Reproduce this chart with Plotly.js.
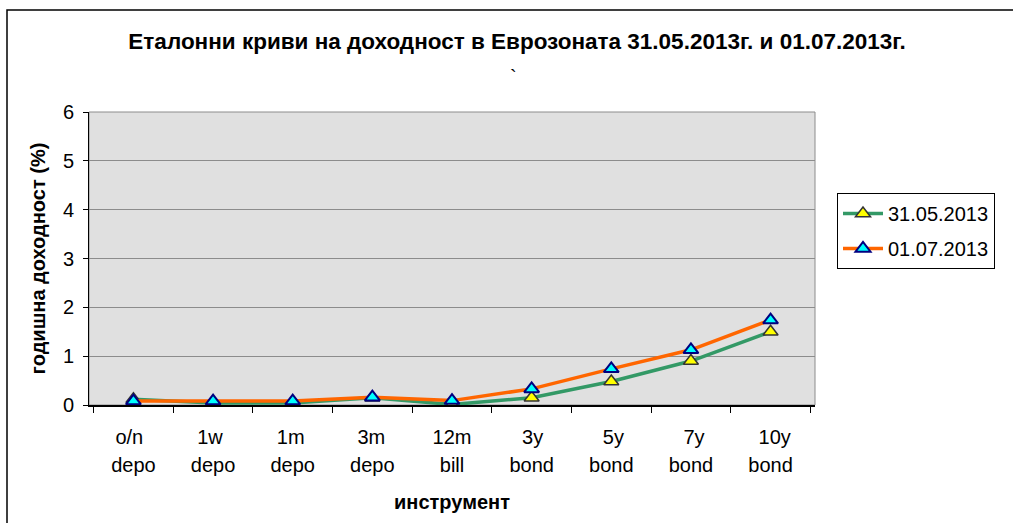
<!DOCTYPE html>
<html><head><meta charset="utf-8">
<script src="https://cdn.plot.ly/plotly-3.0.1.min.js"></script>
<style>html,body{margin:0;padding:0;background:#fff}#chart{width:1013px;height:523px}</style>
</head><body><div id="chart"></div>
<script>
const categories = ["o/n depo","1w depo","1m depo","3m depo","12m bill","3y bond","5y bond","7y bond","10y bond"];
const labelTop = ["o/n","1w","1m","3m","12m","3y","5y","7y","10y"];
const labelBottom = ["depo","depo","depo","depo","bill","bond","bond","bond","bond"];
const series1Name = "31.05.2013";
const series1 = [0.12, 0.04, 0.04, 0.15, 0.01, 0.15, 0.48, 0.90, 1.50];
const series2Name = "01.07.2013";
const series2 = [0.08, 0.08, 0.08, 0.16, 0.09, 0.33, 0.74, 1.13, 1.74];
const yTicks = [0,1,2,3,4,5,6];

const FONT = "Liberation Sans, Arial, sans-serif";
const FS = 20;
const L = 89, R = 815, T = 112, B = 405, W = 1013, H = 523;
const px2x = p => (p - L) / (R - L);
const py2y = p => (B - p) / (B - T);

const traces = [
  {x: categories, y: series1, name: series1Name, type: 'scatter', mode: 'lines+markers', legendgroup: 'a',
   line: {color: '#339966', width: 3.5},
   marker: {symbol: 'triangle-up', size: 13, color: '#FFFF00', line: {color: '#333333', width: 1.5}}},
  {x: categories, y: series2, name: series2Name, type: 'scatter', mode: 'lines+markers', legendgroup: 'b',
   line: {color: '#FF6600', width: 3.5},
   marker: {symbol: 'triangle-up', size: 13, color: '#00FFFF', line: {color: '#000080', width: 2}}},
  {x: labelTop, y: labelTop.map(() => null), xaxis: 'x2', type: 'scatter', mode: 'lines',
   showlegend: false, hoverinfo: 'skip', line: {width: 0}}
];

const layout = {
  width: W, height: H,
  margin: {l: L, r: W - R, t: T, b: H - B, pad: 0},
  paper_bgcolor: '#ffffff', plot_bgcolor: '#E0E0E0',
  font: {family: FONT, size: FS, color: '#000'},
  showlegend: true,
  title: {text: '<b>Еталонни криви на доходност в Еврозоната 31.05.2013г. и 01.07.2013г.</b>',
          font: {family: FONT, size: 22.5, color: '#000'}, x: 517 / W, xref: 'container', xanchor: 'center',
          y: 1 - 41 / H, yref: 'container', yanchor: 'middle'},
  xaxis: {type: 'category', tickmode: 'array', tickvals: categories, ticktext: labelBottom,
          tickson: 'boundaries', ticks: 'outside', ticklen: 6, tickcolor: '#000', tickwidth: 1,
          showline: true, linecolor: '#000', linewidth: 2, showgrid: false, zeroline: false,
          tickfont: {family: FONT, size: FS}, ticklabelstandoff: 41,
          title: {text: '<b>инструмент</b>', font: {family: FONT, size: FS}, standoff: 20}},
  xaxis2: {overlaying: 'x', anchor: 'y', side: 'bottom', type: 'category', range: [-0.5, 8.5],
           ticks: '', showline: false, showgrid: false, zeroline: false,
           tickfont: {family: FONT, size: FS}, ticklabelstandoff: 18, fixedrange: true},
  yaxis: {range: [0, 6], tickmode: 'array', tickvals: yTicks, ticks: 'outside', ticklen: 5,
          tickcolor: '#000', showline: true, linecolor: '#000', linewidth: 1,
          showgrid: true, gridcolor: '#8C8C8C', gridwidth: 1, zeroline: false,
          tickfont: {family: FONT, size: FS}, ticklabelstandoff: 5,
          title: {text: '<b>годишна доходност (%)</b>', font: {family: FONT, size: FS}, standoff: 11}},
  legend: {x: px2x(837), y: py2y(193), xanchor: 'left', yanchor: 'top', traceorder: 'grouped',
           bordercolor: '#000', borderwidth: 1, bgcolor: '#fff',
           font: {family: FONT, size: FS}, tracegroupgap: 6, itemwidth: 40},
  shapes: [
    {type: 'rect', xref: 'paper', yref: 'paper', x0: 0, x1: 1, y0: 0, y1: 1,
     line: {color: '#8C8C8C', width: 1}, layer: 'below'},
    {type: 'rect', xref: 'paper', yref: 'paper', x0: px2x(7), x1: px2x(1030), y0: py2y(10), y1: py2y(540),
     line: {color: '#000', width: 1.5}}
  ],
  annotations: [
    {text: '`', xref: 'paper', yref: 'paper', x: px2x(513), y: py2y(64), showarrow: false,
     font: {family: FONT, size: FS, color: '#000'}}
  ]
};

Plotly.newPlot('chart', traces, layout, {displayModeBar: false, staticPlot: true});
</script></body></html>
